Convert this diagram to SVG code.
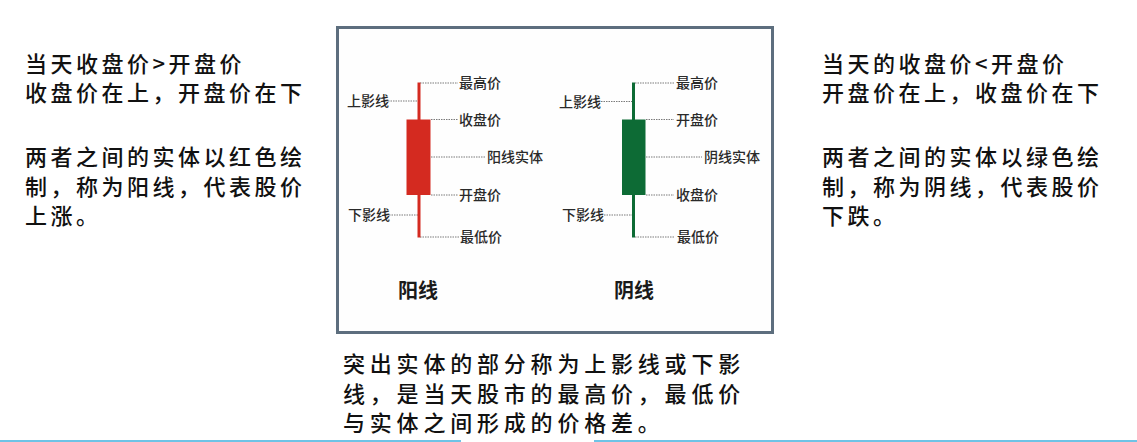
<svg xmlns="http://www.w3.org/2000/svg" width="1137" height="442" viewBox="0 0 1137 442">
<style>
.big{font-family:"Noto Sans CJK SC","Noto Sans",sans-serif;font-size:22px;font-weight:500;letter-spacing:3.5px;fill:#111}
.bot{font-family:"Noto Sans CJK SC","Noto Sans",sans-serif;font-size:22px;font-weight:500;letter-spacing:4.8px;fill:#111}
.lbl{font-family:"Noto Sans CJK SC","Noto Sans",sans-serif;font-size:14px;font-weight:500;fill:#2a2a2a}
.ttl{font-family:"Noto Sans CJK SC","Noto Sans",sans-serif;font-size:20px;font-weight:700;fill:#1a1a1a}
.dot{stroke:#7a7a7a;stroke-width:1;stroke-dasharray:1.5 1;fill:none}
</style>
<rect width="1137" height="442" fill="#ffffff"/>
<g id="left-text">
<text class="big" x="25" y="72">当天收盘价&gt;开盘价</text>
<text class="big" x="25" y="101">收盘价在上，开盘价在下</text>
<text class="big" x="25" y="165">两者之间的实体以红色绘</text>
<text class="big" x="25" y="195">制，称为阳线，代表股价</text>
<text class="big" x="25" y="224">上涨。</text>
</g>
<g id="right-text">
<text class="big" x="822" y="72">当天的收盘价&lt;开盘价</text>
<text class="big" x="822" y="101">开盘价在上，收盘价在下</text>
<text class="big" x="822" y="165">两者之间的实体以绿色绘</text>
<text class="big" x="822" y="195">制，称为阴线，代表股价</text>
<text class="big" x="822" y="224">下跌。</text>
</g>
<g id="frame">
<rect x="337.5" y="27.5" width="435" height="305" fill="#fefefe" stroke="#5d6e7e" stroke-width="3"/>
</g>
<g id="connectors">
<line class="dot" x1="420" y1="83" x2="458" y2="83"/>
<line class="dot" x1="431" y1="119.5" x2="458" y2="119.5"/>
<line class="dot" x1="431" y1="157" x2="486" y2="157"/>
<line class="dot" x1="431" y1="195" x2="458" y2="195"/>
<line class="dot" x1="420" y1="237" x2="459" y2="237"/>
<line class="dot" x1="388" y1="101" x2="418" y2="101"/>
<line class="dot" x1="389" y1="215" x2="418" y2="215"/>
<line class="dot" x1="635" y1="83" x2="674" y2="83"/>
<line class="dot" x1="646" y1="119.5" x2="674" y2="119.5"/>
<line class="dot" x1="646" y1="157" x2="702" y2="157"/>
<line class="dot" x1="646" y1="195" x2="674" y2="195"/>
<line class="dot" x1="635" y1="237" x2="674" y2="237"/>
<line class="dot" x1="601" y1="101.5" x2="632" y2="101.5"/>
<line class="dot" x1="604" y1="215" x2="632" y2="215"/>
</g>
<g id="yang-candle">
<rect x="417.5" y="82.5" width="3" height="155" fill="#d42a20"/>
<rect x="406.5" y="119.5" width="24" height="75.5" fill="#d42a20"/>
</g>
<g id="yin-candle">
<rect x="632" y="82.5" width="3" height="155" fill="#0d6b35"/>
<rect x="622" y="119.5" width="23.5" height="75.5" fill="#0d6b35"/>
</g>
<g id="yang-labels">
<text class="lbl" x="459" y="88">最高价</text>
<text class="lbl" x="459" y="124.5">收盘价</text>
<text class="lbl" x="487" y="162">阳线实体</text>
<text class="lbl" x="459" y="200">开盘价</text>
<text class="lbl" x="460" y="242">最低价</text>
<text class="lbl" x="347" y="106">上影线</text>
<text class="lbl" x="348" y="220">下影线</text>
<text class="ttl" x="398" y="298">阳线</text>
</g>
<g id="yin-labels">
<text class="lbl" x="676" y="88">最高价</text>
<text class="lbl" x="676" y="124.5">开盘价</text>
<text class="lbl" x="704" y="162">阴线实体</text>
<text class="lbl" x="676" y="200">收盘价</text>
<text class="lbl" x="677" y="242">最低价</text>
<text class="lbl" x="559" y="106.5">上影线</text>
<text class="lbl" x="562" y="220">下影线</text>
<text class="ttl" x="614" y="298">阴线</text>
</g>
<g id="bottom-text">
<text class="bot" x="343" y="371.5">突出实体的部分称为上影线或下影</text>
<text class="bot" x="343" y="401.5">线，是当天股市的最高价，最低价</text>
<text class="bot" x="343" y="431">与实体之间形成的价格差。</text>
</g>
<g id="bottom-rule" fill="#6ec3e6">
<rect x="0" y="440" width="461" height="2"/>
<rect x="594" y="440" width="543" height="2"/>
</g>
</svg>
